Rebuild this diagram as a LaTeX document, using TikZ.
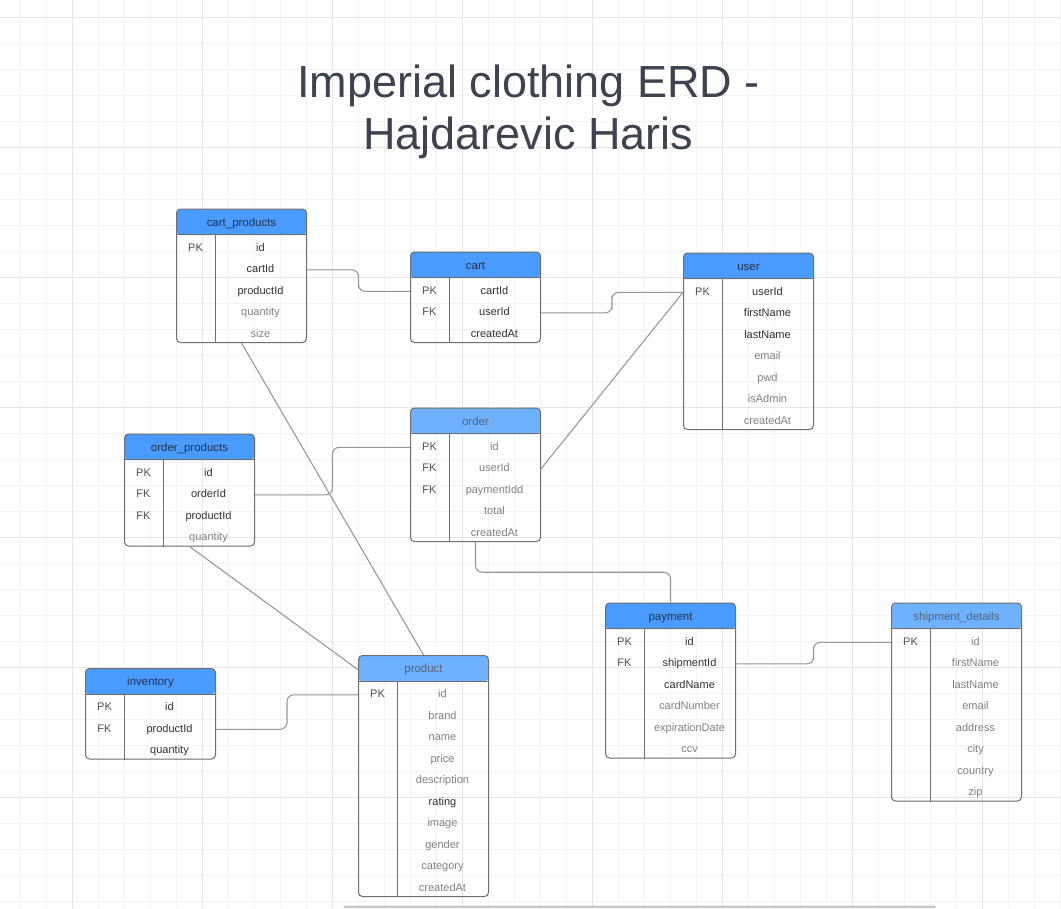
\documentclass[tikz,border=0pt]{standalone}
\usepackage{fontspec}
\setmainfont{Liberation Sans}
\usetikzlibrary{calc,positioning}
\definecolor{hdrblue}{RGB}{74,155,255}
\definecolor{hdrpale}{RGB}{110,178,255}
\definecolor{hdrdark}{RGB}{36,50,72}
\definecolor{hdrgray}{RGB}{86,98,114}
\definecolor{fielddark}{RGB}{48,48,48}
\definecolor{fieldgray}{RGB}{128,128,128}
\definecolor{framegray}{RGB}{110,110,110}
\definecolor{linkgray}{RGB}{150,150,150}
\definecolor{gridminor}{RGB}{243,243,243}
\definecolor{gridmajor}{RGB}{229,229,229}
\definecolor{titlegray}{RGB}{61,68,79}
\colorlet{dk}{fielddark}
\colorlet{lt}{fieldgray}
\tikzset{
  tablebox/.style={draw=framegray, line width=0.75pt, rounded corners=3pt, minimum width=97.5pt, anchor=north west, inner sep=0pt},
  frame line/.style={draw=framegray, line width=0.75pt},
  brighthead/.style={fill=hdrblue, text=hdrdark},
  palehead/.style={fill=hdrpale, text=hdrgray},
  headtext/.style={font=\fontsize{8.6pt}{10pt}\selectfont, inner sep=0pt, text height=6.2pt, text depth=1.6pt},
  keytext/.style={font=\fontsize{8.25pt}{10pt}\selectfont, text=fielddark!85, inner sep=0pt, text height=6.2pt, text depth=1.6pt},
  fieldtext/.style={font=\fontsize{8.25pt}{10pt}\selectfont, inner sep=0pt, text height=6.2pt, text depth=1.6pt},
  link/.style={draw=linkgray, line width=0.8pt, rounded corners=5pt},
  hvh/.style={to path={-| ($(\tikztostart)!.5!(\tikztotarget)$) |- (\tikztotarget)}},
  vhv/.style={to path={|- ($(\tikztostart)!.5!(\tikztotarget)$) -| (\tikztotarget)}}
}
% name, x, y, rows, title, header style, key/field/tone list
\newcommand{\erdtable}[7]{%
  \node[tablebox, minimum height={19.5pt+#4*16.125pt},
    path picture={\fill[#6] (path picture bounding box.north west) rectangle ([yshift=-19.5pt]path picture bounding box.north east);}] (#1) at (#2,#3) {};
  \node[headtext, #6, fill=none] (#1-h) at ([yshift=-11pt]#1.north) {#5};
  \draw[frame line] ([yshift=-19.5pt]#1.north west) -- ([yshift=-19.5pt]#1.north east);
  \draw[frame line] ([xshift=29.25pt,yshift=-19.5pt]#1.north west) -- ([xshift=29.25pt]#1.south west);
  \foreach \key/\fld/\tone [count=\i] in {#7} {
    \node[keytext] (#1-k\i) at ([xshift=14.625pt,yshift={-21.8pt-(\i-0.5)*16.125pt}]#1.north west) {\key};
    \node[fieldtext, text=\tone] (#1-\i) at ([xshift=63.375pt,yshift={-21.8pt-(\i-0.5)*16.125pt}]#1.north west) {\fld};
  }
}

\begin{document}
\begin{tikzpicture}[x=0.75pt, y=-0.75pt]
  \useasboundingbox (0,0) rectangle (1061,908);
  \fill[white] (0,0) rectangle (1061,908);
  \foreach \x in {20.7,46.7,...,1061} \draw[gridminor, line width=0.75pt] (\x,0) -- (\x,908);
  \foreach \y in {17.3,43.3,...,908} \draw[gridminor, line width=0.75pt] (0,\y) -- (1061,\y);
  \foreach \x in {72.7,202.7,...,1061} \draw[gridmajor, line width=0.75pt] (\x,0) -- (\x,908);
  \foreach \y in {17.3,147.3,...,908} \draw[gridmajor, line width=0.75pt] (0,\y) -- (1061,\y);
  \fill[black!22, rounded corners=1pt] (343,905.5) rectangle (936,908);

  \node[text=titlegray, align=center, font=\fontsize{33.75pt}{39pt}\selectfont] (title) at (528.5,112) {Imperial clothing ERD -\\Hajdarevic Haris};

  \erdtable{cartprod}{176}{208.5}{5}{cart\_products}{brighthead}{PK/id/dk, {}/cartId/dk, {}/productId/dk, {}/quantity/lt, {}/size/lt}
  \erdtable{cart}{410}{251.5}{3}{cart}{brighthead}{PK/cartId/dk, FK/userId/dk, {}/createdAt/dk}
  \erdtable{user}{683}{252.5}{7}{user}{brighthead}{PK/userId/dk, {}/firstName/dk, {}/lastName/dk, {}/email/lt, {}/pwd/lt, {}/isAdmin/lt, {}/createdAt/lt}
  \erdtable{ordprod}{124}{433.5}{4}{order\_products}{brighthead}{PK/id/dk, FK/orderId/dk, FK/productId/dk, {}/quantity/lt}
  \erdtable{order}{410}{407.5}{5}{order}{palehead}{PK/id/lt, FK/userId/lt, FK/paymentIdd/lt, {}/total/lt, {}/createdAt/lt}
  \erdtable{inventory}{85}{668}{3}{inventory}{brighthead}{PK/id/dk, FK/productId/dk, {}/quantity/dk}
  \erdtable{product}{358}{655}{10}{product}{palehead}{PK/id/lt, {}/brand/lt, {}/name/lt, {}/price/lt, {}/description/lt, {}/rating/dk, {}/image/lt, {}/gender/lt, {}/category/lt, {}/createdAt/lt}
  \erdtable{payment}{605}{602.5}{6}{payment}{brighthead}{PK/id/dk, FK/shipmentId/dk, {}/cardName/dk, {}/cardNumber/lt, {}/expirationDate/lt, {}/ccv/lt}
  \erdtable{shipment}{891}{602.5}{8}{shipment\_details}{palehead}{PK/id/lt, {}/firstName/lt, {}/lastName/lt, {}/email/lt, {}/address/lt, {}/city/lt, {}/country/lt, {}/zip/lt}

  \draw[link] (cartprod-2 -| cartprod.east) to[hvh] (cart-1 -| cart.west);
  \draw[link] (cart-2 -| cart.east) to[hvh] (user-1 -| user.west);
  \draw[link] (order-2 -| order.east) -- (user-1 -| user.west);
  \draw[link] (ordprod-2 -| ordprod.east) to[hvh] (order-1 -| order.west);
  \draw[link] (cartprod.south) -- (product.north);
  \draw[link] (ordprod.south) -- (product-h -| product.west);
  \draw[link] (inventory-2 -| inventory.east) to[hvh] (product-1 -| product.west);
  \draw[link] (order.south) to[vhv] (payment.north);
  \draw[link] (payment-2 -| payment.east) to[hvh] (shipment-1 -| shipment.west);
\end{tikzpicture}
\end{document}
